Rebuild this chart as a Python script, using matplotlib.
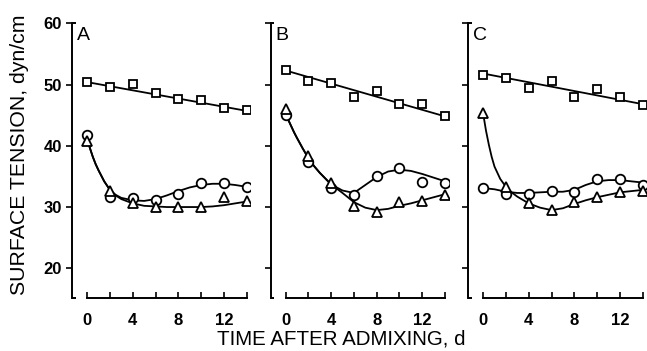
import matplotlib
matplotlib.use("Agg")
import matplotlib.pyplot as plt
from matplotlib.ticker import FixedLocator, NullFormatter

plt.rcParams['font.family'] = ['Liberation Sans', 'DejaVu Sans']

# days of measurement
days = [0, 2, 4, 6, 8, 10, 12, 14]

# marker values (dyn/cm)
sq_a = [50.4, 49.6, 50.1, 48.7, 47.7, 47.5, 46.1, 45.8]
ci_a = [41.8, 31.6, 31.4, 31.2, 32.2, 34.0, 34.0, 33.2]
tr_a = [40.8, 32.7, 30.6, 30.0, 30.0, 30.0, 31.7, 31.0]

sq_b = [52.3, 50.5, 50.3, 48.0, 48.9, 46.9, 46.9, 44.8]
ci_b = [45.0, 37.4, 33.1, 32.0, 35.1, 36.4, 34.1, 34.0]
tr_b = [46.0, 38.4, 34.0, 30.2, 29.2, 30.8, 31.0, 32.0]

sq_c = [51.6, 51.0, 49.4, 50.6, 47.9, 49.2, 48.0, 46.7]
ci_c = [33.1, 32.1, 32.2, 32.7, 32.5, 34.6, 34.6, 33.6]
tr_c = [45.3, 33.2, 30.7, 29.5, 30.9, 31.6, 32.5, 32.7]

# straight lines through the squares (ends at day 0 and 14)
line_x = [0, 14]
line_a = [50.4, 45.7]
line_b = [52.3, 44.8]
line_c = [51.8, 46.8]

# hand-drawn smooth curves
curve_x = [0, 0.25, 0.5, 0.75, 1, 1.5, 2, 2.5, 3, 4, 5, 6, 7, 8, 9, 10, 11, 12, 13, 14]
cc_a = [41.2, 39.6, 38.2, 37.0, 36.0, 34.2, 32.8, 32.0, 31.5, 31.1, 31.0, 31.3, 31.9, 32.6, 33.2, 33.6, 33.8, 33.8, 33.6, 33.3]
ct_a = [41.2, 39.6, 38.2, 37.0, 36.0, 34.2, 32.8, 31.9, 31.3, 30.6, 30.2, 30.1, 30.0, 30.0, 30.0, 30.0, 30.1, 30.3, 30.6, 30.9]
cc_b = [45.3, 44.2, 43.2, 42.2, 41.3, 39.6, 38.0, 36.7, 35.6, 33.7, 32.7, 32.3, 33.6, 34.9, 35.8, 36.1, 35.9, 35.4, 34.8, 34.2]
ct_b = [45.3, 44.2, 43.2, 42.2, 41.3, 39.6, 38.0, 36.7, 35.6, 33.7, 32.3, 30.8, 29.9, 29.5, 29.7, 30.2, 30.6, 31.1, 31.6, 32.1]
cc_c = [33.1, 33.05, 33.0, 32.95, 32.9, 32.7, 32.5, 32.4, 32.3, 32.3, 32.4, 32.5, 32.5, 32.8, 33.6, 34.2, 34.4, 34.4, 34.2, 34.0]
ct_c = [45.3, 42.5, 40.2, 38.2, 36.6, 34.6, 33.3, 32.4, 31.7, 30.6, 29.9, 29.5, 29.8, 30.5, 31.1, 31.6, 32.0, 32.4, 32.6, 32.8]

panels = [
    ("A", sq_a, ci_a, tr_a, line_a, cc_a, ct_a),
    ("B", sq_b, ci_b, tr_b, line_b, cc_b, ct_b),
    ("C", sq_c, ci_c, tr_c, line_c, cc_c, ct_c),
]

fig = plt.figure(figsize=(6.47, 3.51), dpi=100)
lefts = [72.3, 270.7, 468.3]
W, H = 647.0, 351.0
ax_w = 177.8
bottom = (H - 298) / H
height = (298 - 23.3) / H

mk = dict(markerfacecolor='white', markeredgecolor='black', markeredgewidth=1.3,
          linestyle='none', zorder=3)

for i, (name, sq, ci, tr, ln, cc, ct) in enumerate(panels):
    ax = fig.add_axes([lefts[i] / W, bottom, ax_w / W, height])
    ax.plot(line_x, ln, color='black', lw=1.3, zorder=2)
    ax.plot(curve_x, cc, color='black', lw=1.3, zorder=2)
    ax.plot(curve_x, ct, color='black', lw=1.3, zorder=2)
    ax.plot(days, sq, marker='s', markersize=6.4, **mk)
    ax.plot(days, ci, marker='o', markersize=6.9, **mk)
    ax.plot(days, tr, marker='^', markersize=6.6, **mk)

    ax.set_xlim(-1.3, 14.3)
    ax.set_ylim(15.15, 60)
    for s in ['top', 'right']:
        ax.spines[s].set_visible(False)
    ax.spines['left'].set_linewidth(1.4)
    ax.spines['bottom'].set_linewidth(1.4)
    ax.spines['bottom'].set_bounds(0, 14)
    # bracket caps on the y axis
    for yy in (0, 1):
        ax.plot([0, 0.018], [yy, yy], transform=ax.transAxes, color='black',
                lw=1.4, clip_on=False, solid_capstyle='butt')

    ax.set_yticks([20, 30, 40, 50, 60])
    ax.tick_params(axis='y', direction='out', length=4, width=1.2, pad=3.5,
                   labelsize=12)
    if i == 0:
        for t in ax.get_yticklabels():
            t.set_fontweight('bold')
    else:
        ax.set_yticklabels([])

    ax.xaxis.set_major_locator(FixedLocator([0, 4, 8, 12]))
    ax.xaxis.set_minor_locator(FixedLocator([2, 6, 10, 14]))
    ax.xaxis.set_minor_formatter(NullFormatter())
    ax.tick_params(axis='x', which='both', direction='in', length=4, width=1.2,
                   pad=10.5, labelsize=12)
    for t in ax.get_xticklabels():
        t.set_fontweight('bold')

    ax.text(0.026, 0.985, name, transform=ax.transAxes, fontsize=14,
            ha='left', va='top')

fig.text(20 / W, 1 - 154.5 / H, "SURFACE TENSION, dyn/cm", fontsize=15.3,
         rotation=90, ha='center', va='center')
fig.text(341 / W, 1 - 339 / H, "TIME AFTER ADMIXING, d", fontsize=14.8,
         ha='center', va='center')

fig.savefig("out.png", dpi=100)
